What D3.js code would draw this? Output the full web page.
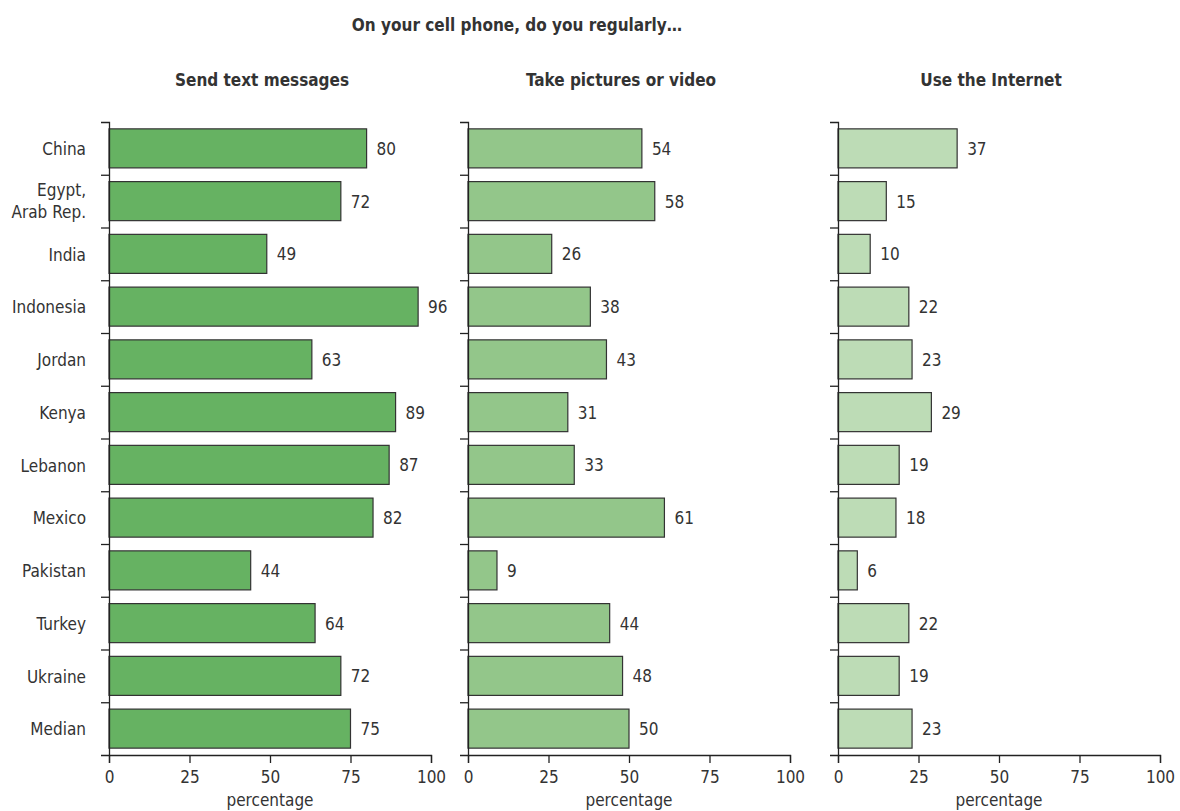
<!DOCTYPE html>
<html>
<head>
<meta charset="utf-8">
<script src="https://cdn.jsdelivr.net/npm/d3@7"></script>
<style>
  body { margin: 0; background: #fff; }
  svg text { font-family: "Liberation Sans Narrow", "DejaVu Sans Condensed", "Roboto", sans-serif; fill: #333; }
  .axis path, .axis line { stroke: #222; stroke-width: 1.3; }
</style>
</head>
<body>
<svg id="chart" width="1180" height="811"></svg>
<script>
const countries = ["China", "Egypt, Arab Rep.", "India", "Indonesia", "Jordan", "Kenya",
  "Lebanon", "Mexico", "Pakistan", "Turkey", "Ukraine", "Median"];
const textMessages = [80, 72, 49, 96, 63, 89, 87, 82, 44, 64, 72, 75];
const picturesVideo = [54, 58, 26, 38, 43, 31, 33, 61, 9, 44, 48, 50];
const internet = [37, 15, 10, 22, 23, 29, 19, 18, 6, 22, 19, 23];
const panelTitles = ["Send text messages", "Take pictures or video", "Use the Internet"];
const xTicks = [0, 25, 50, 75, 100];

const panels = [
  {title: panelTitles[0], values: textMessages, color: "#66b262", left: 109},
  {title: panelTitles[1], values: picturesVideo, color: "#93c68a", left: 468},
  {title: panelTitles[2], values: internet, color: "#bddcb6", left: 838}
];

const svg = d3.select("#chart"),
    plotTop = 122,
    plotBottom = 755,
    panelW = 322;

const y = d3.scaleBand().domain(countries).range([plotTop, plotBottom]).paddingInner(0.26).paddingOuter(0.13);
// boundaries between rows, used for the y axis ticks
const yEdge = d3.scaleLinear().domain([0, countries.length]).range([plotTop, plotBottom]);

svg.append("text")
    .attr("x", 517).attr("y", 31)
    .attr("text-anchor", "middle")
    .attr("font-size", 17).attr("font-weight", "bold")
    .text("On your cell phone, do you regularly\u2026");

panels.forEach(function(p, i) {
    const x = d3.scaleLinear().domain([0, 100]).range([0, panelW]);
    const g = svg.append("g").attr("transform", "translate(" + p.left + ",0)");

    g.append("text")
        .attr("x", panelW / 2 - 8).attr("y", 86)
        .attr("text-anchor", "middle")
        .attr("font-size", 17).attr("font-weight", "bold")
        .text(p.title);

    g.selectAll(".bar")
        .data(p.values)
        .enter().append("rect")
        .attr("class", "bar")
        .attr("x", x(0))
        .attr("y", function(d, j) { return y(countries[j]); })
        .attr("width", function(d) { return x(d); })
        .attr("height", y.bandwidth())
        .attr("fill", p.color)
        .attr("stroke", "#333")
        .attr("stroke-width", 1.2);

    g.selectAll(".val")
        .data(p.values)
        .enter().append("text")
        .attr("class", "val")
        .attr("x", function(d) { return x(d) + 10; })
        .attr("y", function(d, j) { return y(countries[j]) + y.bandwidth() / 2; })
        .attr("dy", "0.38em")
        .attr("font-size", 17)
        .text(function(d) { return d; });

    g.append("g")
        .attr("class", "axis")
        .call(d3.axisLeft(yEdge).tickValues(d3.range(1, countries.length)).tickFormat("").tickSize(8).tickSizeOuter(8))
        .select(".domain").attr("fill", "none");

    const xa = g.append("g")
        .attr("class", "axis")
        .attr("transform", "translate(0," + plotBottom + ")")
        .call(d3.axisBottom(x).tickValues(xTicks).tickSize(8).tickSizeOuter(8));
    xa.selectAll("text").attr("font-size", 17).attr("dy", "1.0em").attr("fill", "#333");
    xa.select(".domain").attr("fill", "none");

    g.append("text")
        .attr("x", panelW / 2).attr("y", 806)
        .attr("text-anchor", "middle")
        .attr("font-size", 17)
        .text("percentage");

    if (i === 0) {
        countries.forEach(function(c) {
            const t = g.append("text")
                .attr("x", -23)
                .attr("y", y(c) + y.bandwidth() / 2)
                .attr("text-anchor", "end")
                .attr("font-size", 17);
            const parts = c === "Egypt, Arab Rep." ? ["Egypt,", "Arab Rep."] : [c];
            parts.forEach(function(s, k) {
                t.append("tspan")
                    .attr("x", -23)
                    .attr("dy", parts.length === 1 ? "0.4em" : (k === 0 ? "-0.3em" : "1.3em"))
                    .text(s);
            });
        });
    }
});
</script>
</body>
</html>
